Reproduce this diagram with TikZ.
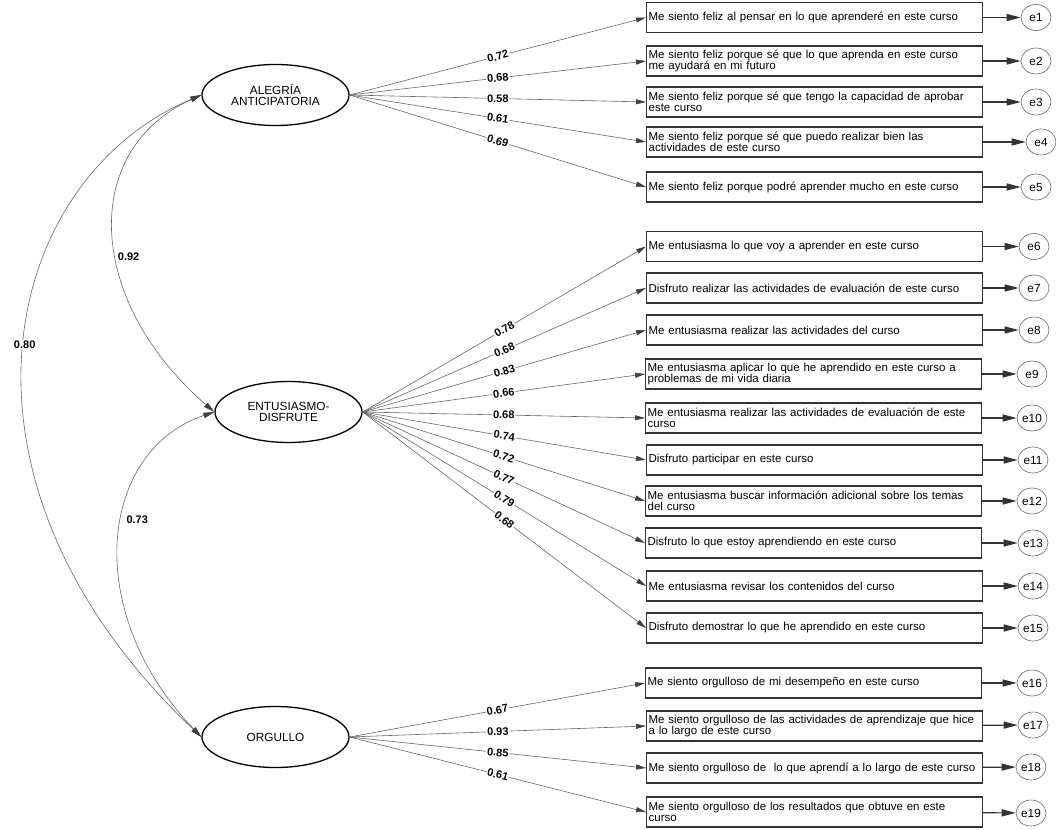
\documentclass[tikz,border=0pt]{standalone}
\usepackage{fontspec}
\setmainfont{Liberation Sans}
\usetikzlibrary{arrows.meta,shapes.geometric}

\begin{document}
\begin{tikzpicture}[x=1pt,y=-1pt,
    factor/.style={draw,ellipse,line width=1.3pt,minimum width=147pt,minimum height=61pt,inner sep=0pt,align=center,font=\fontsize{11.8}{11}\selectfont},
    item/.style={draw=black!80,line width=1.2pt,anchor=west,minimum height=30pt,text width=332pt,inner xsep=2pt,inner ysep=2pt,align=left,font=\fontsize{11.5}{11.6}\selectfont},
    err/.style={draw=black!60,ellipse,line width=0.6pt,minimum width=30pt,minimum height=26pt,inner sep=0pt,font=\fontsize{11.8}{11.8}\selectfont},
    load/.style={draw=black!60,line width=0.6pt,-{Triangle[length=10pt,width=5pt,color=black!75]}},
    res/.style={draw=black!80,line width=1.2pt,-{Triangle[length=14pt,width=7pt]}},
    cov/.style={draw=black!60,line width=0.6pt,{Triangle[length=11pt,width=5.5pt,color=black!75]}-{Triangle[length=11pt,width=5.5pt,color=black!75]}},
    coef/.style={fill=white,inner sep=1pt,font=\bfseries\fontsize{11}{11}\selectfont}]
      \useasboundingbox (0,0) rectangle (1056,829);
      \node[factor] (ale) at (275.5,95) {ALEGRÍA\\ANTICIPATORIA};
      \node[factor] (ent) at (288.5,412) {ENTUSIASMO-\\DISFRUTE};
      \node[factor] (org) at (275.5,737) {ORGULLO};

      \node[item] (i1) at (646,17.5) {Me siento feliz al pensar en lo que aprenderé en este curso};
      \node[item] (i2) at (646,61) {Me siento feliz porque sé que lo que aprenda en este curso\\me ayudará en mi futuro};
      \node[item] (i3) at (646,102) {Me siento feliz porque sé que tengo la capacidad de aprobar\\este curso};
      \node[item] (i4) at (646,142) {Me siento feliz porque sé que puedo realizar bien las\\actividades de este curso};
      \node[item] (i5) at (646,187) {Me siento feliz porque podré aprender mucho en este curso};
      \node[item] (i6) at (646,246.5) {Me entusiasma lo que voy a aprender en este curso};
      \node[item] (i7) at (646,288) {Disfruto realizar las actividades de evaluación de este curso};
      \node[item] (i8) at (646,330) {Me entusiasma realizar las actividades del curso};
      \node[item] (i9) at (645,374) {Me entusiasma aplicar lo que he aprendido en este curso a\\problemas de mi vida diaria};
      \node[item] (i10) at (645,418) {Me entusiasma realizar las actividades de evaluación de este\\curso};
      \node[item] (i11) at (646,460) {Disfruto participar en este curso};
      \node[item] (i12) at (645,501) {Me entusiasma buscar información adicional sobre los temas\\del curso};
      \node[item] (i13) at (645,543) {Disfruto lo que estoy aprendiendo en este curso};
      \node[item] (i14) at (646,586) {Me entusiasma revisar los contenidos del curso};
      \node[item] (i15) at (646,628) {Disfruto demostrar lo que he aprendido en este curso};
      \node[item] (i16) at (645,683) {Me siento orgulloso de mi desempeño en este curso};
      \node[item] (i17) at (646,726) {Me siento orgulloso de las actividades de aprendizaje que hice\\a lo largo de este curso};
      \node[item] (i18) at (646,768) {Me siento orgulloso de~ lo que aprendí a lo largo de este curso};
      \node[item] (i19) at (646,812) {Me siento orgulloso de los resultados que obtuve en este\\curso};

      \node[err] (e1) at (1036,17.5) {e1};
      \node[err] (e2) at (1036,61) {e2};
      \node[err] (e3) at (1036,102) {e3};
      \node[err] (e4) at (1041,142) {e4};
      \node[err] (e5) at (1036,187) {e5};
      \node[err] (e6) at (1034,246.5) {e6};
      \node[err] (e7) at (1034,288) {e7};
      \node[err] (e8) at (1034,330) {e8};
      \node[err] (e9) at (1032,374) {e9};
      \node[err] (e10) at (1032,418) {e10};
      \node[err] (e11) at (1033,460) {e11};
      \node[err] (e12) at (1032,501) {e12};
      \node[err] (e13) at (1033,543) {e13};
      \node[err] (e14) at (1033,586) {e14};
      \node[err] (e15) at (1033,628) {e15};
      \node[err] (e16) at (1032,683) {e16};
      \node[err] (e17) at (1033,725) {e17};
      \node[err] (e18) at (1031,767) {e18};
      \node[err] (e19) at (1031,813) {e19};

      \draw[load] (ale.east) -- (i1.west) node[coef,sloped,midway]{0.72};
      \draw[load] (ale.east) -- (i2.west) node[coef,sloped,midway]{0.68};
      \draw[load] (ale.east) -- (i3.west) node[coef,sloped,midway]{0.58};
      \draw[load] (ale.east) -- (i4.west) node[coef,sloped,midway]{0.61};
      \draw[load] (ale.east) -- (i5.west) node[coef,sloped,midway]{0.69};
      \draw[load] (ent.east) -- (i6.west) node[coef,sloped,midway]{0.78};
      \draw[load] (ent.east) -- (i7.west) node[coef,sloped,midway]{0.68};
      \draw[load] (ent.east) -- (i8.west) node[coef,sloped,midway]{0.83};
      \draw[load] (ent.east) -- (i9.west) node[coef,sloped,midway]{0.66};
      \draw[load] (ent.east) -- (i10.west) node[coef,sloped,midway]{0.68};
      \draw[load] (ent.east) -- (i11.west) node[coef,sloped,midway]{0.74};
      \draw[load] (ent.east) -- (i12.west) node[coef,sloped,midway]{0.72};
      \draw[load] (ent.east) -- (i13.west) node[coef,sloped,midway]{0.77};
      \draw[load] (ent.east) -- (i14.west) node[coef,sloped,midway]{0.79};
      \draw[load] (ent.east) -- (i15.west) node[coef,sloped,midway]{0.68};
      \draw[load] (org.east) -- (i16.west) node[coef,sloped,midway]{0.67};
      \draw[load] (org.east) -- (i17.west) node[coef,sloped,midway]{0.93};
      \draw[load] (org.east) -- (i18.west) node[coef,sloped,midway]{0.85};
      \draw[load] (org.east) -- (i19.west) node[coef,sloped,midway]{0.61};

      \draw[res] (i1) -- (e1);
      \draw[res] (i2) -- (e2);
      \draw[res] (i3) -- (e3);
      \draw[res] (i4) -- (e4);
      \draw[res] (i5) -- (e5);
      \draw[res] (i6) -- (e6);
      \draw[res] (i7) -- (e7);
      \draw[res] (i8) -- (e8);
      \draw[res] (i9) -- (e9);
      \draw[res] (i10) -- (e10);
      \draw[res] (i11) -- (e11);
      \draw[res] (i12) -- (e12);
      \draw[res] (i13) -- (e13);
      \draw[res] (i14) -- (e14);
      \draw[res] (i15) -- (e15);
      \draw[res] (i16) -- (e16);
      \draw[res] (i17) -- (e17);
      \draw[res] (i18) -- (e18);
      \draw[res] (i19) -- (e19);

      \draw[cov] (ale.west) .. controls (0,180) and (-70,480) .. (org.west) node[coef,pos=0.49]{0.80};
      \draw[cov] (ale.west) .. controls (80,150) and (85,300) .. (ent.west) node[coef,pos=0.57,anchor=west]{0.92};
      \draw[cov] (ent.west) .. controls (100,450) and (80,610) .. (org.west) node[coef,pos=0.44,anchor=west,xshift=3pt]{0.73};
\end{tikzpicture}
\end{document}
